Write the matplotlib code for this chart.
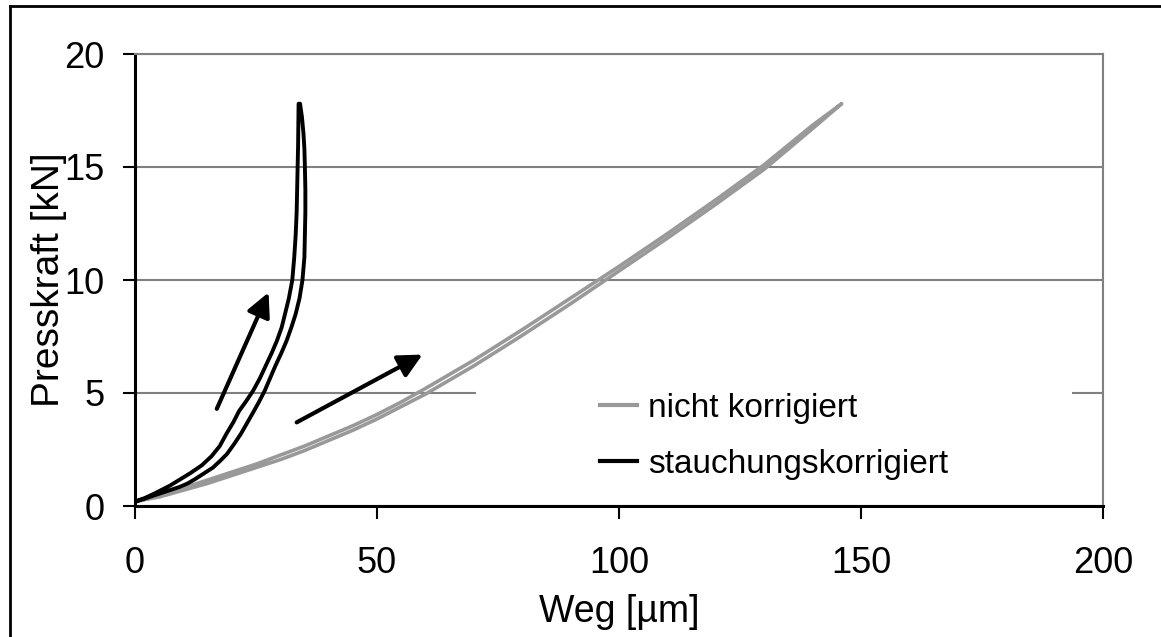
import matplotlib
matplotlib.use("Agg")
import matplotlib.pyplot as plt
from matplotlib.lines import Line2D
from matplotlib.patches import Rectangle

plt.rcParams['font.family'] = ['Liberation Sans', 'DejaVu Sans']

# --- data -------------------------------------------------------------
# nicht korrigiert (gray loop: loading + unloading)
gray_up_x = [0, 5, 10, 15, 20, 25, 30, 35, 40, 45, 50, 55, 60, 70, 80, 90, 100, 110, 120, 130, 140, 146]
gray_up_y = [0.2, 0.4, 0.7, 1.0, 1.35, 1.7, 2.05, 2.45, 2.9, 3.35, 3.85, 4.4, 4.95, 6.2, 7.55, 8.95, 10.4, 11.85, 13.35, 14.9, 16.7, 17.8]
gray_dn_x = [146, 140, 130, 120, 110, 100, 90, 80, 70, 60, 55, 50, 45, 40, 35, 30, 25, 20, 15, 10, 5, 0]
gray_dn_y = [17.8, 16.85, 15.1, 13.55, 12.05, 10.6, 9.2, 7.8, 6.45, 5.2, 4.6, 4.05, 3.55, 3.1, 2.65, 2.25, 1.85, 1.5, 1.15, 0.8, 0.45, 0.2]

# stauchungskorrigiert (black loop)
black_up_x = [0, 2, 4, 7.2, 9.5, 11.4, 13.8, 15.8, 17.5, 18.9, 20.3, 21.5, 23.0, 24.4, 25.8, 27.0, 28.2, 29.3, 30.3, 31.0, 31.8, 32.5, 32.9, 33.2, 33.4, 33.5, 33.6, 33.7, 33.8]
black_up_y = [0.2, 0.35, 0.55, 0.9, 1.2, 1.45, 1.8, 2.2, 2.65, 3.2, 3.7, 4.2, 4.65, 5.1, 5.65, 6.2, 6.75, 7.3, 7.9, 8.5, 9.2, 10.0, 11.0, 12.0, 13.0, 14.0, 15.0, 16.0, 17.8]
black_dn_x = [34.1, 34.5, 34.8, 35.0, 35.1, 35.2, 35.2, 35.1, 35.0, 34.6, 34.0, 33.2, 32.3, 31.3, 30.2, 29.0, 27.9, 26.8, 25.6, 24.3, 23.1, 21.9, 20.5, 19.0, 17.6, 16.1, 14.3, 12.5, 10.9, 9.3, 7.5, 5.8, 3.0, 0.3]
black_dn_y = [17.8, 17.2, 16.5, 15.8, 15.0, 14.0, 13.0, 12.0, 11.0, 10.0, 9.2, 8.5, 7.9, 7.3, 6.75, 6.2, 5.65, 5.1, 4.6, 4.1, 3.65, 3.2, 2.75, 2.3, 2.0, 1.7, 1.45, 1.2, 1.0, 0.85, 0.72, 0.6, 0.4, 0.2]

x_ticks = [0, 50, 100, 150, 200]
y_ticks = [0, 5, 10, 15, 20]
x_label = "Weg [µm]"
y_label = "Presskraft [kN]"
series_names = ["nicht korrigiert", "stauchungskorrigiert"]
series_colors = ["#999999", "#000000"]

# --- figure -------------------------------------------------------------
W, H = 1161, 637
fig = plt.figure(figsize=(W / 100, H / 100), dpi=100)
ax = fig.add_axes([135 / W, 1 - 506 / H, (1103 - 135) / W, (506 - 54) / H])

ax.plot(gray_up_x + gray_dn_x, gray_up_y + gray_dn_y, color=series_colors[0], lw=2.6,
        zorder=3, label=series_names[0])
ax.plot(black_up_x + black_dn_x, black_up_y + black_dn_y, color=series_colors[1], lw=2.8,
        zorder=4, label=series_names[1])

ax.set_xlim(x_ticks[0], x_ticks[-1])
ax.set_ylim(y_ticks[0], y_ticks[-1])
ax.set_xticks(x_ticks)
ax.set_yticks(y_ticks)
ax.tick_params(axis='both', direction='out', length=9, width=1.5, labelsize=26,
               colors='black')
ax.tick_params(axis='x', pad=20)
ax.tick_params(axis='y', pad=13)
ax.set_xlabel(x_label, fontsize=27, labelpad=9)
ax.set_ylabel(y_label, fontsize=28, labelpad=-2)

ax.yaxis.grid(True, color='#808080', lw=1.5)
ax.set_axisbelow(True)
for s in ['left', 'bottom']:
    ax.spines[s].set_linewidth(2.2)
    ax.spines[s].set_color('black')
for s in ['right', 'top']:
    ax.spines[s].set_linewidth(1.5)
    ax.spines[s].set_color('#808080')

# white legend area covering part of gridline
ax.add_patch(Rectangle((70.5, 1.0), 123, 5.0, facecolor='white', edgecolor='none', zorder=1.5))

leg = ax.legend(loc='center left', bbox_to_anchor=((600 - 135) / 968, (506 - 436) / 452),
                frameon=False, fontsize=24, handlelength=1.1, handletextpad=0.35,
                labelspacing=0.75, borderaxespad=0, borderpad=0)
for h in leg.get_lines():
    h.set_linewidth(3)

# arrows
arrow_kw = dict(arrowstyle='-|>', color='black', lw=3, mutation_scale=36, shrinkA=0, shrinkB=0)
ax.annotate('', xy=(27.6, 9.45), xytext=(16.9, 4.3), arrowprops=arrow_kw, zorder=5)
ax.annotate('', xy=(59.4, 6.7), xytext=(33.4, 3.7), arrowprops=arrow_kw, zorder=5)

# outer frame
fig.add_artist(Line2D([10 / W, 10 / W], [0, 1 - 6 / H], color='black', lw=2, transform=fig.transFigure))
fig.add_artist(Line2D([10 / W, 1], [1 - 6 / H, 1 - 6 / H], color='black', lw=2, transform=fig.transFigure))

fig.savefig("out.png", dpi=100)
